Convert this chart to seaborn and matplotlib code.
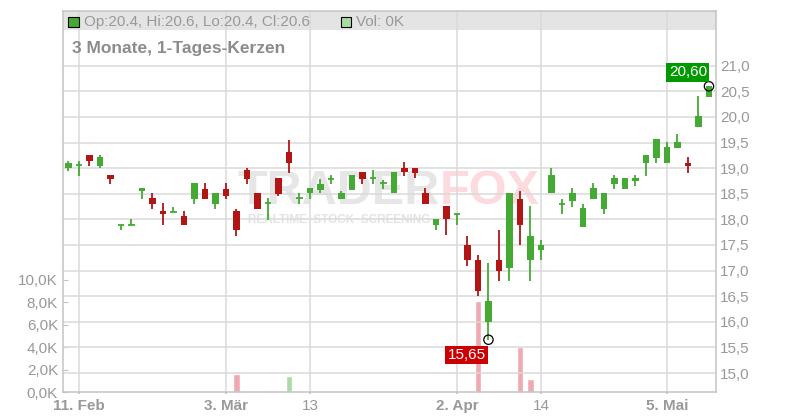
import numpy as np
import pandas as pd
import matplotlib
matplotlib.use('Agg')
import matplotlib.pyplot as plt
from matplotlib.patches import Rectangle
import seaborn as sns

# ----------------------------
# 1. Data
# ----------------------------
start_day = '2025-02-10'
end_day = '2025-05-09'
holidays = ['2025-04-18', '2025-04-21', '2025-05-01']

opens = [19.00, 19.06, 19.25, 19.05, 18.86, 17.90, 17.90, 18.56, 18.42, 18.16,
         18.15, 18.06, 18.40, 18.60, 18.31, 18.60, 18.16, 18.96, 18.51, 18.32,
         18.81, 19.31, 18.41, 18.51, 18.58, 18.79, 18.40, 18.58, 18.92, 18.80,
         18.72, 18.51, 19.01, 19.01, 18.51, 17.90, 18.26, 18.10, 17.50, 17.21,
         16.00, 17.21, 17.05, 18.40, 17.20, 17.40, 18.51, 18.31, 18.35, 17.85,
         18.40, 18.20, 18.69, 18.59, 18.75, 19.10, 19.20, 19.10, 19.40, 19.11,
         19.81, 20.40]
highs = [19.15, 19.15, 19.25, 19.25, 18.86, 17.90, 18.00, 18.61, 18.51, 18.32,
         18.25, 18.16, 18.71, 18.71, 18.51, 18.71, 18.21, 19.01, 18.51, 18.42,
         18.81, 19.56, 18.51, 18.62, 18.79, 18.86, 18.56, 18.86, 18.92, 18.96,
         18.77, 18.93, 19.12, 19.01, 18.61, 18.00, 18.26, 18.10, 17.67, 17.31,
         17.15, 17.80, 18.51, 18.56, 18.26, 17.60, 19.01, 18.40, 18.61, 18.31,
         18.71, 18.51, 18.86, 18.80, 18.86, 19.25, 19.57, 19.51, 19.66, 19.21,
         20.41, 20.60]
lows = [18.95, 18.85, 19.05, 19.00, 18.70, 17.80, 17.90, 18.40, 18.20, 17.90,
        18.15, 17.90, 18.31, 18.40, 18.21, 18.40, 17.68, 18.69, 18.20, 17.99,
        18.46, 18.91, 18.31, 18.40, 18.51, 18.69, 18.40, 18.58, 18.69, 18.69,
        18.59, 18.51, 18.85, 18.80, 18.30, 17.79, 17.69, 17.90, 17.09, 16.50,
        15.65, 16.80, 16.80, 17.50, 16.80, 17.20, 18.51, 18.10, 18.24, 17.85,
        18.40, 18.10, 18.60, 18.59, 18.65, 18.85, 19.10, 19.10, 19.40, 18.91,
        19.81, 20.40]
closes = [19.11, 19.06, 19.14, 19.21, 18.79, 17.90, 17.90, 18.61, 18.31, 18.11,
          18.15, 17.90, 18.71, 18.40, 18.51, 18.46, 17.80, 18.79, 18.20, 18.32,
          18.49, 19.10, 18.41, 18.62, 18.69, 18.79, 18.51, 18.86, 18.79, 18.80,
          18.72, 18.93, 18.92, 18.91, 18.30, 18.00, 18.00, 18.10, 17.20, 16.60,
          16.41, 17.00, 18.51, 17.90, 17.67, 17.50, 18.86, 18.31, 18.51, 18.22,
          18.61, 18.51, 18.80, 18.80, 18.80, 19.25, 19.57, 19.41, 19.51, 19.04,
          20.02, 20.60]

# volume in thousands, only days with visible bars
vol_dates = ['2025-03-04', '2025-03-11', '2025-04-04', '2025-04-10', '2025-04-11']
vol_values = [1.6, 1.45, 8.1, 4.0, 1.15]

tick_dates = ['2025-02-11', '2025-03-03', '2025-03-13', '2025-04-02', '2025-04-14', '2025-05-05']
tick_labels = ['11. Feb', '3. Mär', '13', '2. Apr', '14', '5. Mai']
tick_bold = [True, True, False, True, False, True]

price_ticks = [15.0, 15.5, 16.0, 16.5, 17.0, 17.5, 18.0, 18.5, 19.0, 19.5, 20.0, 20.5, 21.0]
vol_ticks = [0, 2, 4, 6, 8, 10]

# ----------------------------
# 2. Build frame
# ----------------------------
days = pd.bdate_range(start_day, end_day)
days = days[~days.isin(pd.to_datetime(holidays))]
df = pd.DataFrame({'Open': opens, 'High': highs, 'Low': lows, 'Close': closes}, index=days)
df['Vol'] = 0.0
df.loc[pd.to_datetime(vol_dates), 'Vol'] = vol_values
df['idx'] = np.arange(len(df))

GREEN = '#44aa33'
RED = '#b31515'
up = df['Close'] >= df['Open']
df['color'] = np.where(up, GREEN, RED)
# volume colour follows close-to-close change
chg = df['Close'].diff().fillna(0)
df['vcolor'] = np.where(chg >= 0, '#a9dca3', '#f0a9b1')

# ----------------------------
# 3. Plot
# ----------------------------
sns.set_theme(style='white')
plt.rcParams['font.family'] = ['Liberation Sans', 'DejaVu Sans']

fig = plt.figure(figsize=(8, 4.2), dpi=100)
ax = fig.add_axes([63/800, 28/420, 653/800, 381/420])
ax_vol = ax.twinx()
ax_vol.yaxis.tick_left()
ax_vol.yaxis.set_label_position('left')
ax.yaxis.tick_right()
ax.set_zorder(ax_vol.get_zorder() + 1)
ax.patch.set_visible(False)

# watermark sits in the bottom axes, behind candles and grid
ftr = fig.transFigure
ax_vol.text(440/800, 1 - 192/420, 'TRADER', ha='right', va='center', fontsize=35,
            fontweight='bold', color='#e6e6e6', transform=ftr, zorder=0)
ax_vol.text(440/800, 1 - 192/420, 'FOX', ha='left', va='center', fontsize=35,
            fontweight='bold', color='#fcdadd', transform=ftr, zorder=0)
ax_vol.text(339/800, 1 - 220/420, 'REALTIME  STOCK  SCREENING', ha='center', va='center',
            fontsize=8.5, fontweight='bold', color='#e3e3e3', transform=ftr, zorder=0)

# volume bars
sns.barplot(data=df, x='idx', y='Vol', hue='idx', palette=list(df['vcolor']),
            legend=False, width=0.64, saturation=1, ax=ax_vol)
ax_vol.set_ylim(0, 34.0)
ax_vol.set_yticks(vol_ticks)
ax_vol.set_yticklabels([f"{v:.1f}K".replace('.', ',') for v in vol_ticks])
ax_vol.set_ylabel('')
for s in ax_vol.spines.values():
    s.set_visible(False)
ax_vol.tick_params(axis='y', left=True, right=False, direction='in', length=3.3, width=0.8,
                   color='#c4c4c4', labelcolor='#999999', labelsize=11, pad=3.6)

# candles
ax.vlines(df['idx'], df['Low'], df['High'], colors=df['color'], lw=1.3, zorder=3)
body_lo = df[['Open', 'Close']].min(axis=1)
body_h = (df['Close'] - df['Open']).abs()
ax.bar(df['idx'], body_h, bottom=body_lo, width=0.64, color=df['color'], lw=0, zorder=4)
doji = body_h < 0.015
ax.hlines(df.loc[doji, 'Open'], df.loc[doji, 'idx'] - 0.32, df.loc[doji, 'idx'] + 0.32,
          colors=df.loc[doji, 'color'], lw=1.3, zorder=4)

ax.set_ylim(14.629, 22.07)
ax.set_xlim(-0.52, 61.67)
ax.set_yticks(price_ticks)
ax.set_yticklabels([f"{p:.1f}".replace('.', ',') for p in price_ticks])
tick_pos = [df.index.get_loc(pd.Timestamp(d)) for d in tick_dates]
ax.set_xticks(tick_pos)
ax.set_xticklabels(tick_labels)
for lab, b in zip(ax.get_xticklabels(), tick_bold):
    lab.set_fontweight('bold' if b else 'normal')

ax.grid(True, color='#dadada', lw=1.1)
ax.set_axisbelow(True)
for s in ax.spines.values():
    s.set_color('#c4c4c4')
    s.set_linewidth(1.1)
ax.tick_params(axis='y', right=True, left=False, length=0, labelcolor='#999999', labelsize=11, pad=3)
ax.tick_params(axis='x', bottom=True, length=1.5, color='#c4c4c4', labelcolor='#999999',
               labelsize=11, pad=3.5)

# header band
ax.add_patch(Rectangle((0, (392-30)/381), 1, 1 - (392-30)/381, transform=ax.transAxes,
                       facecolor='#e4e4e4', edgecolor='none', zorder=0))

# header legend + title
last = df.iloc[-1]
ax.add_patch(Rectangle((68/800, 1 - 27/420), 11/800, 10/420, transform=ftr,
                       facecolor=GREEN, edgecolor='black', lw=0.8, zorder=8, clip_on=False))
ax.text(84/800, 1 - 22/420,
        f"Op:{last['Open']:.1f}, Hi:{last['High']:.1f}, Lo:{last['Low']:.1f}, Cl:{last['Close']:.1f}",
        ha='left', va='center', fontsize=11, color='#999999', transform=ftr, zorder=8)
ax.add_patch(Rectangle((341/800, 1 - 27/420), 10/800, 10/420, transform=ftr,
                       facecolor='#a9dca3', edgecolor='black', lw=0.8, zorder=8, clip_on=False))
ax.text(356/800, 1 - 22/420, 'Vol: 0K', ha='left', va='center', fontsize=11, color='#999999',
        transform=ftr, zorder=8)
ax.text(72/800, 1 - 48/420, '3 Monate, 1-Tages-Kerzen', ha='left', va='center',
        fontsize=12.5, fontweight='bold', color='#8c8c8c', transform=ftr, zorder=8)

# last / low markers
i_last = df['idx'].iloc[-1]
i_low = df['Low'].idxmin()
ax.scatter([i_last, df.loc[i_low, 'idx']], [last['Close'], df.loc[i_low, 'Low']], s=45,
           facecolors='none', edgecolors='black', lw=0.9, zorder=6)
ax.annotate(f"{last['Close']:.2f}".replace('.', ','), (i_last, last['Close']),
            xytext=(-1.5, 10), textcoords='offset points', ha='right', va='center',
            fontsize=11, color='white', zorder=7,
            bbox=dict(boxstyle='square,pad=0.15', fc='#009900', ec='none'))
ax.annotate(f"{df.loc[i_low, 'Low']:.2f}".replace('.', ','), (df.loc[i_low, 'idx'], df.loc[i_low, 'Low']),
            xytext=(-2, -11), textcoords='offset points', ha='right', va='center',
            fontsize=11, color='white', zorder=7,
            bbox=dict(boxstyle='square,pad=0.15', fc='#cc0000', ec='none'))

fig.savefig('out.png', dpi=100)
